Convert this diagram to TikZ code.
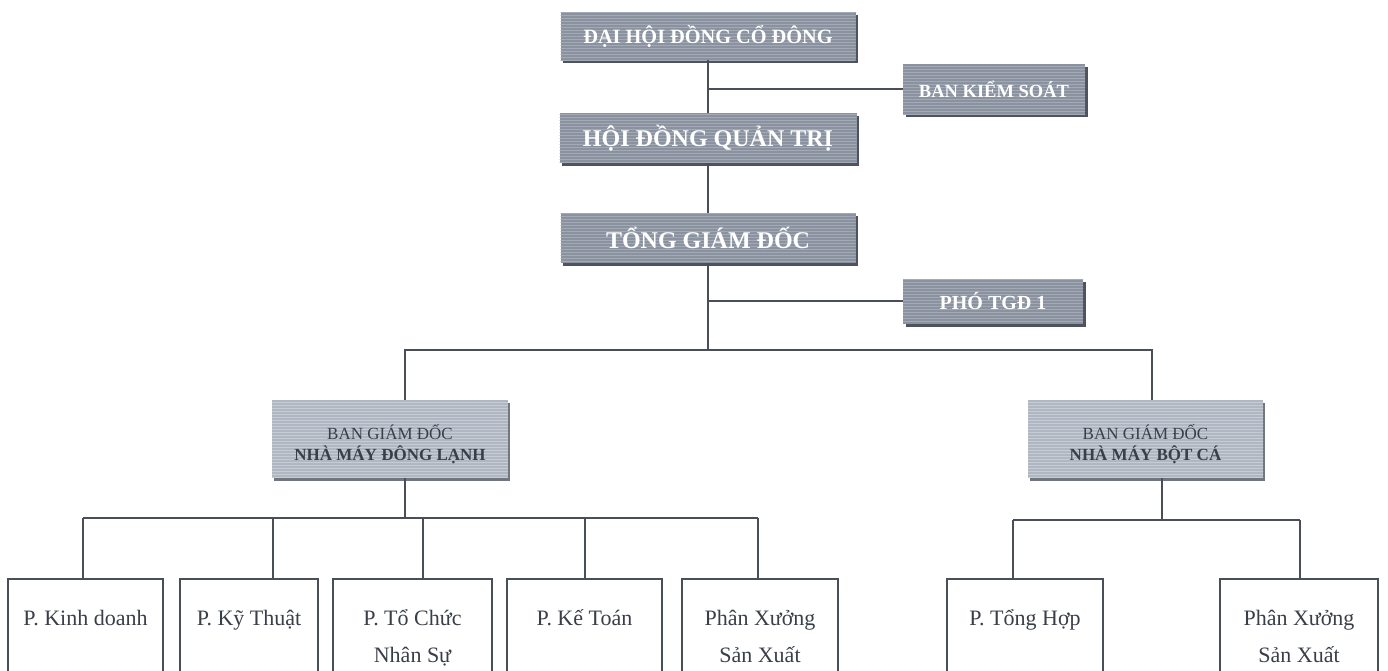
\documentclass[tikz,border=0pt]{standalone}
\usepackage{fontspec}
\setmainfont{Liberation Serif}
\usetikzlibrary{shadows,patterns}
\definecolor{topfill}{HTML}{8A92A0}
\definecolor{lowfill}{HTML}{B0B7C3}
\definecolor{shadowc}{HTML}{4E535D}
\definecolor{linec}{HTML}{4A4F57}
\definecolor{stripetop}{HTML}{A3AAB6}
\definecolor{stripelow}{HTML}{C6CBD4}
\definecolor{txtdark}{HTML}{3A3F47}
\newcommand\lnstrut{\rule[-8pt]{0pt}{29pt}}
\newcommand\bgdstrut{\rule{0pt}{26pt}}
\begin{document}
\begin{tikzpicture}[x=1pt,y=-1pt,
  topbox/.style={fill=topfill, draw=none, text=white, font=\bfseries,
    inner sep=0pt, align=center,
    drop shadow={shadow xshift=2.5pt, shadow yshift=-3pt, fill=shadowc, opacity=1},
    postaction={pattern=horizontal lines, pattern color=stripetop}},
  lowbox/.style={fill=lowfill, draw=none, text=txtdark,
    inner sep=0pt, align=center, font=\fontsize{17}{21}\selectfont,
    drop shadow={shadow xshift=2pt, shadow yshift=-2.5pt, fill=shadowc!80, opacity=1},
    postaction={pattern=horizontal lines, pattern color=stripelow}},
  unitbox/.style={draw=linec, line width=1.6pt, fill=white, text=txtdark,
    anchor=north, minimum height=118pt, inner sep=0pt, align=center,
    font=\fontsize{22}{37}\selectfont},
  conn/.style={draw=linec, line width=1.6pt}
]
\useasboundingbox (0,0) rectangle (1388,670);
\fill[white] (0,0) rectangle (1388,670);
\clip (0,0) rectangle (1388,670);

% top level
\node[topbox, minimum width=295pt, minimum height=48pt, font=\bfseries\fontsize{20.3}{22}\selectfont] (dh) at (708,36) {ĐẠI HỘI ĐỒNG CỔ ĐÔNG};
\node[topbox, minimum width=297pt, minimum height=50pt, font=\bfseries\fontsize{24}{26}\selectfont] (hd) at (708,138) {HỘI ĐỒNG QUẢN TRỊ};
\node[topbox, minimum width=295pt, minimum height=50pt, font=\bfseries\fontsize{24}{26}\selectfont] (tgd) at (708,238) {TỔNG GIÁM ĐỐC};
\node[topbox, minimum width=182pt, minimum height=50pt, font=\bfseries\fontsize{18.5}{22}\selectfont] (bks) at (994,89) {BAN KIỂM SOÁT};
\node[topbox, minimum width=180pt, minimum height=45pt, font=\bfseries\fontsize{20}{22}\selectfont] (ptgd) at (993,301) {PHÓ TGĐ 1};

% factory boards
\node[lowbox, minimum width=236pt, minimum height=78pt] (bgd1) at (390,439)
  {\bgdstrut BAN GIÁM ĐỐC\\\bfseries NHÀ MÁY ĐÔNG LẠNH};
\node[lowbox, minimum width=235pt, minimum height=78pt] (bgd2) at (1145.5,439)
  {\bgdstrut BAN GIÁM ĐỐC\\\bfseries NHÀ MÁY BỘT CÁ};

% units
\node[unitbox, minimum width=155pt] (b1) at (85.5,578) {\lnstrut P. Kinh doanh\\\lnstrut};
\node[unitbox, minimum width=138pt] (b2) at (249,578) {\lnstrut P. Kỹ Thuật\\\lnstrut};
\node[unitbox, minimum width=159pt] (b3) at (412.5,578) {\lnstrut P. Tổ Chức\\\lnstrut Nhân Sự};
\node[unitbox, minimum width=155pt] (b4) at (584.5,578) {\lnstrut P. Kế Toán\\\lnstrut};
\node[unitbox, minimum width=156pt] (b5) at (760,578) {\lnstrut Phân Xưởng\\\lnstrut Sản Xuất};
\node[unitbox, minimum width=156pt] (b6) at (1025,578) {\lnstrut P. Tổng Hợp\\\lnstrut};
\node[unitbox, minimum width=158pt] (b7) at (1299,578) {\lnstrut Phân Xưởng\\\lnstrut Sản Xuất};

% junction coordinates
\coordinate (k) at (708,89);
\coordinate (p) at (708,301);
\coordinate (t1) at (405,350);
\coordinate (t2) at (1152,350);
\coordinate (j1) at (405,518);
\coordinate (d1) at (83,518);
\coordinate (d2) at (273,518);
\coordinate (d3) at (423,518);
\coordinate (d4) at (585,518);
\coordinate (d5) at (758,518);
\coordinate (j2) at (1162,520);
\coordinate (e1) at (1013,520);
\coordinate (e2) at (1300,520);

% connectors
\draw[conn] (dh.south) -- (hd.north);
\draw[conn] (k) -- (bks.west);
\draw[conn] (hd.south) -- (tgd.north);
\draw[conn] (tgd.south) -- (tgd.south |- t1);
\draw[conn] (p) -- (ptgd.west);
\draw[conn] (t1 |- bgd1.north) -- (t1) -- (t2) -- (t2 |- bgd2.north);
\draw[conn] (j1 |- bgd1.south) -- (j1);
\draw[conn] (d1) -- (d5);
\draw[conn] (d1) -- (d1 |- b1.north);
\draw[conn] (d2) -- (d2 |- b2.north);
\draw[conn] (d3) -- (d3 |- b3.north);
\draw[conn] (d4) -- (d4 |- b4.north);
\draw[conn] (d5) -- (d5 |- b5.north);
\draw[conn] (j2 |- bgd2.south) -- (j2);
\draw[conn] (e1) -- (e2);
\draw[conn] (e1) -- (e1 |- b6.north);
\draw[conn] (e2) -- (e2 |- b7.north);
\end{tikzpicture}
\end{document}
